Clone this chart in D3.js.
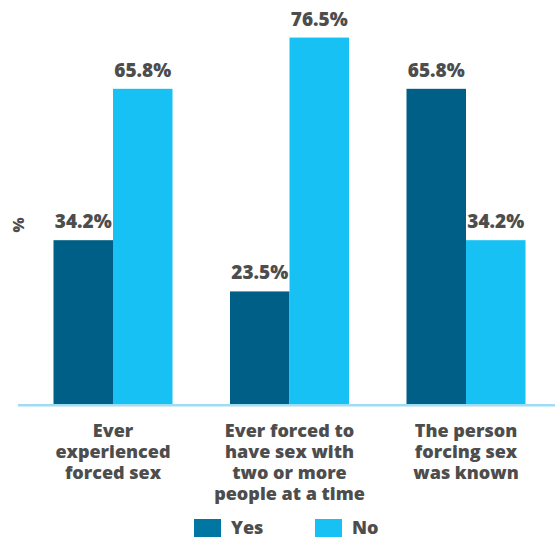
<!DOCTYPE html>
<html>
<head>
<meta charset="utf-8">
<script src="https://cdn.jsdelivr.net/npm/d3@7"></script>
<style>
  html, body { margin: 0; padding: 0; background: #fff; }
  svg { display: block; }
  text { font-family: "Open Sans", sans-serif; font-weight: 800; fill: #4d4d4d; }
</style>
</head>
<body>
<svg id="chart" width="555" height="537"></svg>
<script>
const categories = [
  ["Ever", "experienced", "forced sex"],
  ["Ever forced to", "have sex with", "two or more", "people at a time"],
  ["The person", "forcing sex", "was known"]
];
const seriesNames = ["Yes", "No"];
const yesValues = [34.2, 23.5, 65.8];
const noValues = [65.8, 76.5, 34.2];
const yAxisLabel = "%";

const colors = { Yes: "#005f87", No: "#17c1f3" };
const legendColors = { Yes: "#0077a3", No: "#17c1f3" };

const svg = d3.select("#chart");
const baseline = 404;

const x0 = d3.scaleBand()
  .domain(d3.range(categories.length))
  .range([24.75, 554.25])
  .paddingInner(0.3258)
  .paddingOuter(0.1629);

const x1 = d3.scaleBand()
  .domain(seriesNames)
  .range([0, x0.bandwidth()]);

const y = d3.scaleLinear().domain([0, 100]).range([baseline, baseline - 479]);

const data = categories.map((c, i) => ({
  i, label: c,
  values: [{ key: "Yes", v: yesValues[i] }, { key: "No", v: noValues[i] }]
}));

const groups = svg.selectAll("g.grp").data(data).enter().append("g")
  .attr("class", "grp")
  .attr("transform", d => `translate(${x0(d.i)},0)`);

groups.selectAll("rect").data(d => d.values).enter().append("rect")
  .attr("x", d => x1(d.key))
  .attr("width", x1.bandwidth())
  .attr("y", d => y(d.v))
  .attr("height", d => baseline - y(d.v))
  .attr("fill", d => colors[d.key]);

groups.selectAll("text.val").data(d => d.values).enter().append("text")
  .attr("class", "val")
  .attr("x", d => x1(d.key) + x1.bandwidth() / 2)
  .attr("y", d => y(d.v) - 12)
  .attr("text-anchor", "middle")
  .style("font-size", "19px")
  .text(d => d.v.toFixed(1) + "%");

// axis baseline
svg.append("line")
  .attr("x1", 18).attr("x2", 555)
  .attr("y1", baseline + 1.2).attr("y2", baseline + 1.2)
  .attr("stroke", "#a0ddf5").attr("stroke-width", 2.5);

// category labels
groups.each(function(d) {
  const t = d3.select(this).append("text")
    .attr("text-anchor", "middle")
    .style("font-size", "18px");
  d.label.forEach((line, k) => {
    t.append("tspan")
      .attr("x", x0.bandwidth() / 2)
      .attr("y", 437 + k * 21)
      .text(line);
  });
});

// y axis label
svg.append("text")
  .attr("transform", "translate(24,225) rotate(-90)")
  .attr("text-anchor", "middle")
  .style("font-size", "16px")
  .text(yAxisLabel);

// legend
const legendPos = [194, 315];
const lg = svg.selectAll("g.lg").data(seriesNames).enter().append("g")
  .attr("class", "lg")
  .attr("transform", (d, i) => `translate(${legendPos[i]},519)`);
lg.append("rect").attr("width", 27).attr("height", 20).attr("fill", d => legendColors[d]);
lg.append("text").attr("x", 37).attr("y", 15).style("font-size", "18px").text(d => d);
</script>
</body>
</html>
